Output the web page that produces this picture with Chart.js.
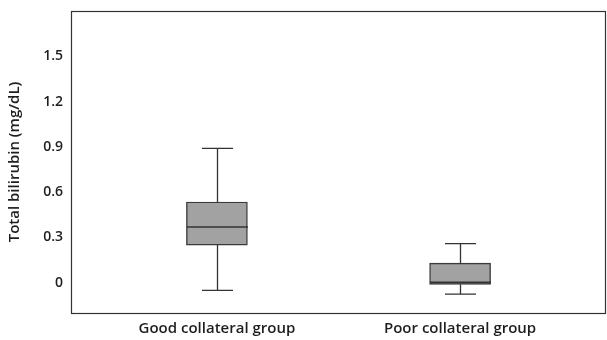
<!DOCTYPE html>
<html>
<head>
<meta charset="utf-8">
<script src="https://cdn.jsdelivr.net/npm/chart.js@4/dist/chart.umd.min.js"></script>
<style>
html,body{margin:0;padding:0;background:#fff;}
canvas{display:block;}
</style>
</head>
<body>
<canvas id="c" width="607" height="340"></canvas>
<script>
// Data
const categories = ['Good collateral group', 'Poor collateral group'];
const positions  = [1, 2];
const whiskerMin = [-0.05, -0.075];
const q1         = [0.25, -0.01];
const median     = [0.37, 0.003];
const q3         = [0.535, 0.13];
const whiskerMax = [0.89, 0.26];
const yTicks     = [0, 0.3, 0.6, 0.9, 1.2, 1.5];
const yTitle     = 'Total bilirubin (mg/dL)';

const FONT = '"Open Sans"';
const TEXT = '#1e1e1e';
const LINE = '#333333';

const boxPlugin = {
  id: 'boxExtras',
  afterDatasetsDraw(chart) {
    const ctx = chart.ctx;
    const xs = chart.scales.x, ys = chart.scales.y;
    ctx.save();
    ctx.strokeStyle = LINE;
    ctx.lineWidth = 1.3;
    const capHalf = 15.5, boxHalf = 30.5;
    positions.forEach((p, i) => {
      const x = Math.round(xs.getPixelForValue(p)) + 0.5;
      const yMin = ys.getPixelForValue(whiskerMin[i]);
      const yQ1 = ys.getPixelForValue(q1[i]);
      const yMed = ys.getPixelForValue(median[i]);
      const yQ3 = ys.getPixelForValue(q3[i]);
      const yMax = ys.getPixelForValue(whiskerMax[i]);
      ctx.beginPath();
      ctx.moveTo(x, yQ3); ctx.lineTo(x, yMax);
      ctx.moveTo(x - capHalf, yMax); ctx.lineTo(x + capHalf, yMax);
      ctx.moveTo(x, yQ1); ctx.lineTo(x, yMin);
      ctx.moveTo(x - capHalf, yMin); ctx.lineTo(x + capHalf, yMin);
      ctx.stroke();
      ctx.beginPath();
      ctx.lineWidth = 1.6;
      ctx.moveTo(x - boxHalf, yMed); ctx.lineTo(x + boxHalf, yMed);
      ctx.stroke();
      ctx.lineWidth = 1.3;
    });
    ctx.restore();
  },
  afterDraw(chart) {
    const a = chart.chartArea, ctx = chart.ctx;
    ctx.save();
    ctx.strokeStyle = LINE;
    ctx.lineWidth = 1.2;
    ctx.strokeRect(Math.round(a.left) + 0.5, Math.round(a.top) + 0.5,
                   Math.round(a.right - a.left) - 1, Math.round(a.bottom - a.top));
    ctx.restore();
  }
};

new Chart(document.getElementById('c'), {
  type: 'bar',
  data: {
    datasets: [{
      data: positions.map((p, i) => ({ x: p, y: [q1[i], q3[i]] })),
      backgroundColor: '#a2a2a2',
      borderColor: '#3a3a3a',
      borderWidth: 1.4,
      borderSkipped: false,
      barThickness: 61
    }]
  },
  options: {
    responsive: false,
    animation: false,
    devicePixelRatio: 1,
    layout: { padding: { top: 11, right: 1, left: 0, bottom: 0 } },
    plugins: { legend: { display: false }, tooltip: { enabled: false } },
    scales: {
      x: {
        type: 'linear',
        min: 0.4, max: 2.6,
        offset: false,
        grid: { display: false, drawTicks: false },
        border: { display: false },
        afterBuildTicks(s) { s.ticks = positions.map(v => ({ value: v })); },
        afterFit(s) { s.height = 27; s.paddingLeft = 0; s.paddingRight = 0; },
        ticks: {
          padding: 7,
          color: TEXT,
          font: { family: FONT, size: 15, weight: '600' },
          maxRotation: 0,
          autoSkip: false,
          callback: (v) => categories[positions.indexOf(v)] || ''
        }
      },
      y: {
        min: -0.2, max: 1.8,
        grid: { display: false, drawTicks: false },
        border: { display: false },
        afterBuildTicks(s) { s.ticks = yTicks.map(v => ({ value: v })); },
        afterFit(s) { s.width = 71; s.paddingTop = 0; s.paddingBottom = 0; },
        ticks: {
          padding: 8,
          color: TEXT,
          font: { family: FONT, size: 14, weight: '600' },
          callback: (v) => v === 0 ? '0' : v.toFixed(1)
        },
        title: {
          display: true,
          text: yTitle,
          color: TEXT,
          font: { family: FONT, size: 15, weight: '600' },
          padding: { top: 6, bottom: 0 }
        }
      }
    }
  },
  plugins: [boxPlugin]
});
</script>
</body>
</html>
